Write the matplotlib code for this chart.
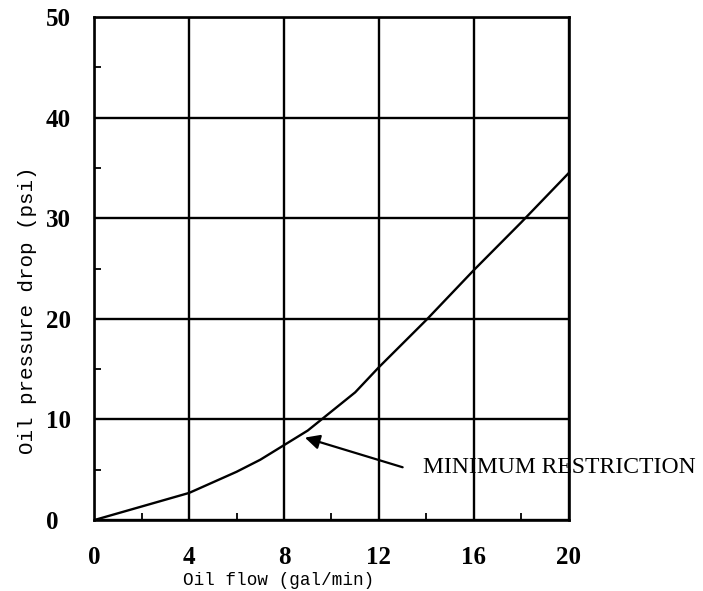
import matplotlib
matplotlib.use("Agg")
import matplotlib.pyplot as plt
from matplotlib.ticker import MultipleLocator

# curve
flow = [0, 2, 4, 6, 7, 8, 9, 10, 11, 12, 14, 16, 18, 20]
pressure_drop = [0, 1.35, 2.7, 4.8, 6.0, 7.45, 8.9, 10.8, 12.7, 15.2, 19.9, 24.85, 29.6, 34.5]

x_ticks = [0, 4, 8, 12, 16, 20]
y_ticks = [0, 10, 20, 30, 40, 50]

fig = plt.figure(figsize=(7.03, 5.91), dpi=100)
ax = fig.add_axes([0.134, 0.120, 0.675, 0.851])

ax.plot(flow, pressure_drop, color='black', linewidth=1.7)

ax.set_xlim(0, 20)
ax.set_ylim(0, 50)
ax.set_xticks(x_ticks)
ax.set_yticks(y_ticks)
ax.xaxis.set_minor_locator(MultipleLocator(2))
ax.yaxis.set_minor_locator(MultipleLocator(5))
ax.tick_params(which='major', length=0, labelsize=18)
ax.tick_params(axis='x', which='major', pad=19)
ax.tick_params(axis='y', which='major', pad=35)
ax.tick_params(which='minor', direction='in', length=5, width=1.3, color='black')
for lbl in ax.get_xticklabels() + ax.get_yticklabels():
    lbl.set_fontfamily('Liberation Serif')
    lbl.set_fontweight('bold')
for lbl in ax.get_yticklabels():
    lbl.set_ha('left')

ax.grid(True, which='major', color='black', linewidth=1.7)
for s in ax.spines.values():
    s.set_linewidth(1.9)
    s.set_color('black')

ax.set_xlabel('Oil flow (gal/min)', family='Liberation Mono', fontsize=12.7, ha='left')
ax.xaxis.set_label_coords(0.187, -0.103)
ax.set_ylabel('Oil pressure drop (psi)', family='Liberation Mono', fontsize=15)
ax.yaxis.set_label_coords(-0.12, 0.417)

# arrow pointing at the curve, label placed to the right
ax.annotate('', xy=(8.88, 8.2), xytext=(13.0, 5.25), annotation_clip=False,
            arrowprops=dict(arrowstyle='-|>', color='black', lw=1.6,
                            mutation_scale=22, shrinkA=0, shrinkB=0))
ax.text(13.86, 5.2, 'MINIMUM RESTRICTION', family='Liberation Serif',
        fontsize=17, va='center', ha='left', clip_on=False)

plt.savefig('out.png', dpi=100)
